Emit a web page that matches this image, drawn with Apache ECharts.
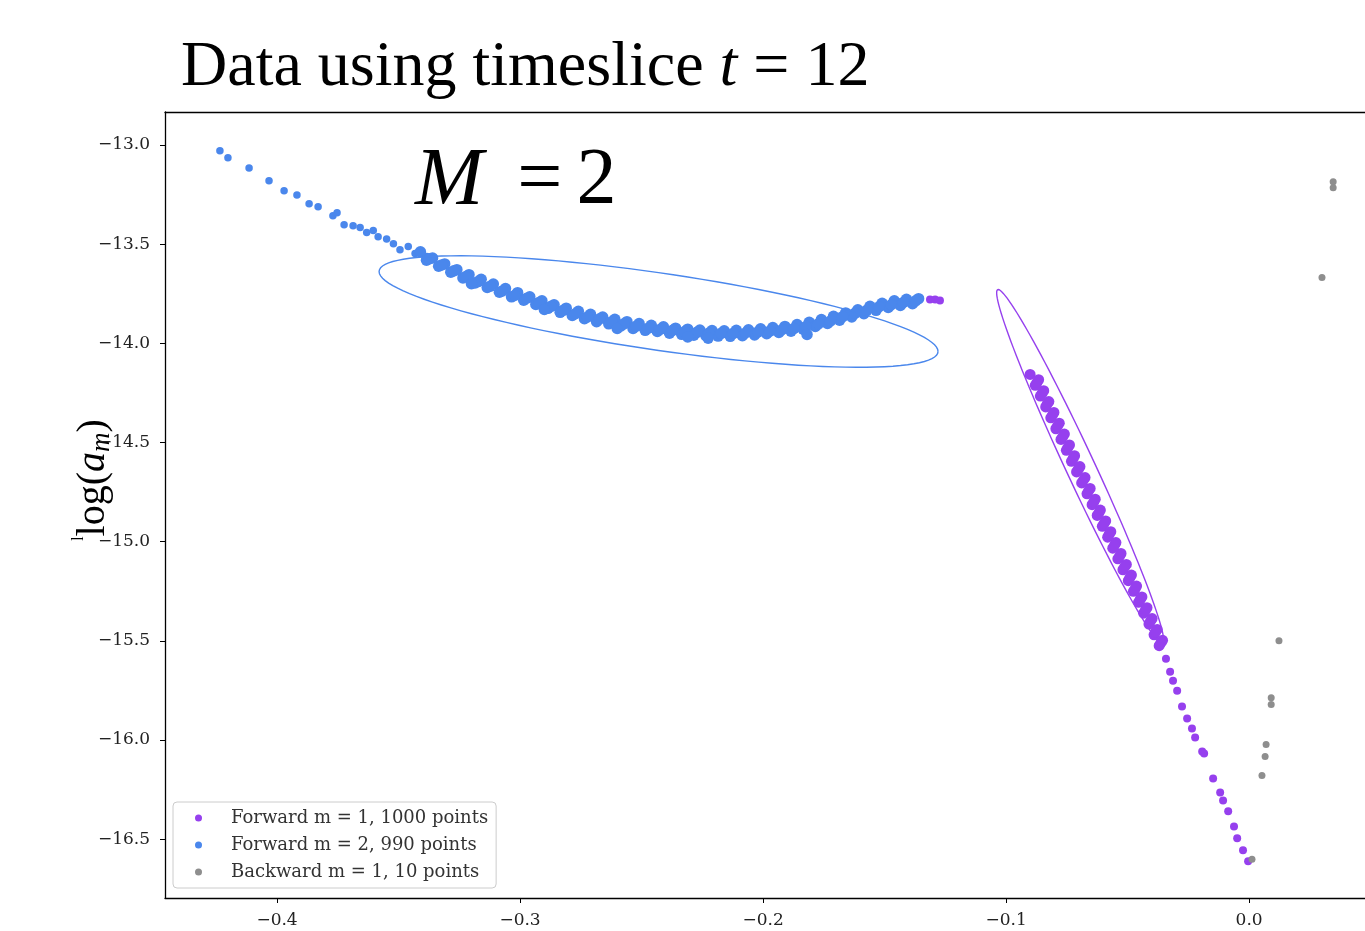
<!DOCTYPE html>
<html>
<head>
<meta charset="utf-8">
<script src="https://cdn.jsdelivr.net/npm/echarts@6/dist/echarts.min.js"></script>
<style>
  html, body { margin: 0; padding: 0; background: #fff; }
  #chart { width: 1365px; height: 931px; }
</style>
</head>
<body>
<div id="chart"></div>
<script>
// series names as in the legend
var names = ['Forward m = 1, 1000 points', 'Forward m = 2, 990 points', 'Backward m = 1, 10 points'];
var colors = ['#9640ee', '#4a87ec', '#8e8e8e'];

var xTicks = [-0.4, -0.3, -0.2, -0.1, 0.0];
var yTicks = [-16.5, -16.0, -15.5, -15.0, -14.5, -14.0, -13.5, -13.0];

// Forward m = 2 (blue): sparse head first, then the dense band (three rows)
var m2HeadCount = 22;
var forwardM2 = [
  [-0.4235, -13.030], [-0.4202, -13.065], [-0.4115, -13.116], [-0.4033, -13.181],
  [-0.3971, -13.231], [-0.3918, -13.252], [-0.3868, -13.297], [-0.3831, -13.312],
  [-0.3770, -13.357], [-0.3753, -13.342], [-0.3724, -13.402], [-0.3687, -13.407],
  [-0.3658, -13.416], [-0.3631, -13.441], [-0.3604, -13.431], [-0.3584, -13.463],
  [-0.3549, -13.474], [-0.3521, -13.498], [-0.3494, -13.528], [-0.3460, -13.512],
  [-0.3432, -13.548], [-0.3384, -13.562],
  // upper row
  [-0.341, -13.539], [-0.336, -13.570], [-0.331, -13.600], [-0.326, -13.629],
  [-0.321, -13.654], [-0.316, -13.677], [-0.311, -13.701], [-0.306, -13.724],
  [-0.301, -13.745], [-0.296, -13.766], [-0.291, -13.786], [-0.286, -13.806],
  [-0.281, -13.823], [-0.276, -13.839], [-0.271, -13.854], [-0.266, -13.868],
  [-0.261, -13.879], [-0.256, -13.891], [-0.251, -13.901], [-0.246, -13.909],
  [-0.241, -13.917], [-0.236, -13.924], [-0.231, -13.929], [-0.226, -13.933],
  [-0.221, -13.936], [-0.216, -13.937], [-0.211, -13.935], [-0.206, -13.932],
  [-0.201, -13.927], [-0.196, -13.921], [-0.191, -13.915], [-0.186, -13.906],
  [-0.181, -13.894], [-0.176, -13.880], [-0.171, -13.864], [-0.166, -13.847],
  [-0.161, -13.831], [-0.156, -13.814], [-0.151, -13.798], [-0.146, -13.786],
  [-0.141, -13.778], [-0.136, -13.775],
  // lower row
  [-0.3385, -13.581], [-0.3335, -13.612], [-0.3285, -13.642], [-0.3235, -13.671],
  [-0.3185, -13.696], [-0.3135, -13.719], [-0.3085, -13.743], [-0.3035, -13.766],
  [-0.2985, -13.783], [-0.2935, -13.804], [-0.2885, -13.824], [-0.2835, -13.844],
  [-0.2785, -13.860], [-0.2735, -13.876], [-0.2685, -13.891], [-0.2635, -13.902],
  [-0.2585, -13.913], [-0.2535, -13.925], [-0.2485, -13.935], [-0.2435, -13.941],
  [-0.2385, -13.949], [-0.2335, -13.955], [-0.2285, -13.959], [-0.2235, -13.962],
  [-0.2185, -13.964], [-0.2135, -13.965], [-0.2085, -13.962], [-0.2035, -13.958],
  [-0.1985, -13.952], [-0.1935, -13.946], [-0.1885, -13.939], [-0.1835, -13.929],
  [-0.1785, -13.915], [-0.1735, -13.900], [-0.1685, -13.884], [-0.1635, -13.867],
  [-0.1585, -13.851], [-0.1535, -13.834], [-0.1485, -13.820], [-0.1435, -13.809],
  [-0.1385, -13.801],
  // middle row
  [-0.33725, -13.574], [-0.33225, -13.605], [-0.32725, -13.635], [-0.32225, -13.664],
  [-0.31725, -13.689], [-0.31225, -13.712], [-0.30725, -13.736], [-0.30225, -13.759],
  [-0.29725, -13.773], [-0.29225, -13.794], [-0.28725, -13.814], [-0.28225, -13.834],
  [-0.27725, -13.851], [-0.27225, -13.867], [-0.26725, -13.877], [-0.26225, -13.891],
  [-0.25725, -13.902], [-0.25225, -13.914], [-0.24725, -13.924], [-0.24225, -13.929],
  [-0.23725, -13.935], [-0.23225, -13.941], [-0.22725, -13.945], [-0.22225, -13.948],
  [-0.21725, -13.950], [-0.21225, -13.950], [-0.20725, -13.948], [-0.20225, -13.944],
  [-0.19725, -13.939], [-0.19225, -13.932], [-0.18725, -13.925], [-0.18225, -13.915],
  [-0.17725, -13.902], [-0.17225, -13.888], [-0.16725, -13.866], [-0.16225, -13.849],
  [-0.15725, -13.833], [-0.15225, -13.816], [-0.14725, -13.806], [-0.14225, -13.794],
  [-0.13725, -13.786],
  // stray points
  [-0.1819, -13.956], [-0.2226, -13.975], [-0.2310, -13.968], [-0.2600, -13.925],
  [-0.2900, -13.830], [-0.3200, -13.700]
];

// Forward m = 1 (purple): three dots at the end of the blue band, the dense band, then the tail
var forwardM1 = [
  [-0.1313, -13.780], [-0.1292, -13.780], [-0.1272, -13.785],
  [-0.0901, -14.157], [-0.0880, -14.212], [-0.0859, -14.266], [-0.0837, -14.321],
  [-0.0816, -14.376], [-0.0795, -14.431], [-0.0774, -14.485], [-0.0752, -14.540],
  [-0.0731, -14.595], [-0.0710, -14.649], [-0.0689, -14.704], [-0.0667, -14.759],
  [-0.0646, -14.814], [-0.0625, -14.868], [-0.0604, -14.923], [-0.0582, -14.978],
  [-0.0561, -15.033], [-0.0540, -15.087], [-0.0519, -15.142], [-0.0497, -15.197],
  [-0.0476, -15.251], [-0.0455, -15.306], [-0.0434, -15.361], [-0.0412, -15.416],
  [-0.0391, -15.470], [-0.0370, -15.525],
  [-0.0866, -14.184], [-0.0845, -14.239], [-0.0824, -14.294], [-0.0803, -14.349],
  [-0.0781, -14.403], [-0.0760, -14.458], [-0.0739, -14.513], [-0.0718, -14.567],
  [-0.0696, -14.622], [-0.0675, -14.677], [-0.0654, -14.732], [-0.0633, -14.786],
  [-0.0612, -14.841], [-0.0590, -14.896], [-0.0569, -14.950], [-0.0548, -15.005],
  [-0.0527, -15.060], [-0.0505, -15.115], [-0.0484, -15.169], [-0.0463, -15.224],
  [-0.0441, -15.279], [-0.0420, -15.333], [-0.0399, -15.388], [-0.0378, -15.443],
  [-0.0356, -15.498],
  [-0.0873, -14.198], [-0.0852, -14.253], [-0.0831, -14.307], [-0.0809, -14.362],
  [-0.0788, -14.417], [-0.0767, -14.472], [-0.0746, -14.526], [-0.0724, -14.581],
  [-0.0703, -14.636], [-0.0682, -14.691], [-0.0661, -14.745], [-0.0639, -14.800],
  [-0.0618, -14.855], [-0.0597, -14.909], [-0.0576, -14.964], [-0.0554, -15.019],
  [-0.0533, -15.074], [-0.0512, -15.128], [-0.0491, -15.183], [-0.0469, -15.238],
  [-0.0448, -15.292], [-0.0427, -15.347], [-0.0406, -15.402], [-0.0385, -15.457],
  [-0.0363, -15.511],
  [-0.0342, -15.591], [-0.0325, -15.656], [-0.0313, -15.701], [-0.0296, -15.752],
  [-0.0276, -15.832], [-0.0255, -15.892], [-0.0235, -15.943], [-0.0222, -15.988],
  [-0.0193, -16.058], [-0.0185, -16.068], [-0.0148, -16.194], [-0.0119, -16.265],
  [-0.0107, -16.305], [-0.0086, -16.360], [-0.0062, -16.436], [-0.0049, -16.496],
  [-0.0025, -16.556], [-0.0004, -16.612]
];
var m1BandStart = 3, m1BandEnd = 79;

// Backward m = 1 (grey)
var backwardM1 = [
  [0.0346, -13.186], [0.0346, -13.216], [0.0300, -13.669], [0.0123, -15.500],
  [0.0091, -15.787], [0.0091, -15.822], [0.0070, -16.023], [0.0066, -16.084],
  [0.0053, -16.179], [0.0012, -16.602]
];

// fitted ellipses: centre x, centre y, half-axis u (x,y), half-axis v (x,y), colour index
var ellipses = [
  [-0.2430, -13.840, 0.1150, -0.2012, 0.0, 0.1962, 1],
  [-0.0695, -14.622, 0.03374, -0.8929, 0.00658, 0.0, 0]
];

var xMin = -0.4461, xMax = 0.0477;
var yMin = -16.797, yMax = -12.834;

var chart = echarts.init(document.getElementById('chart'));

function fmt(v) {
  return (v < 0 ? '\u2212' : '') + Math.abs(v).toFixed(1);
}

chart.setOption({
  animation: false,
  backgroundColor: '#fff',
  title: [
    {
      text: '{n|Data using timeslice }{i|t}{n| = 12}',
      left: 176, top: 31,
      textStyle: {
        rich: {
          n: { fontFamily: 'Liberation Serif', fontWeight: 'normal', fontSize: 64, color: '#000' },
          i: { fontFamily: 'Liberation Serif', fontStyle: 'italic', fontWeight: 'normal', fontSize: 64, color: '#000' }
        }
      }
    },
    {
      text: '{i|M}{e|=}{n|2}',
      left: 410, top: 136,
      textStyle: {
        rich: {
          n: { fontFamily: 'Liberation Serif', fontWeight: 'normal', fontSize: 80, color: '#000' },
          e: { fontFamily: 'Liberation Serif', fontWeight: 'normal', fontSize: 80, color: '#000', padding: [0, 14, 0, 34] },
          i: { fontFamily: 'Liberation Serif', fontStyle: 'italic', fontWeight: 'normal', fontSize: 82, color: '#000' }
        }
      }
    }
  ],
  grid: { left: 165, top: 112, right: 0, height: 786 },
  legend: {
    data: names,
    orient: 'vertical',
    left: 173, top: 802,
    icon: 'circle',
    itemWidth: 7, itemHeight: 7, itemGap: 7,
    padding: [6, 8, 6, 22],
    backgroundColor: 'rgba(255,255,255,0.85)',
    borderColor: '#cccccc', borderWidth: 1, borderRadius: 4,
    textStyle: { fontFamily: 'DejaVu Serif', fontSize: 18, color: '#333', lineHeight: 20, padding: [0, 0, 0, 24] }
  },
  xAxis: [
    {
      type: 'value',
      min: xMin, max: xMax,
      splitLine: { show: false },
      axisLine: { onZero: false, lineStyle: { color: '#000', width: 1.3 } },
      axisTick: { customValues: xTicks, length: 5, lineStyle: { color: '#000' } },
      axisLabel: {
        customValues: xTicks, formatter: fmt, margin: 14,
        fontFamily: 'DejaVu Serif', fontSize: 17, color: '#222'
      }
    },
    {
      type: 'value', position: 'top',
      min: xMin, max: xMax,
      splitLine: { show: false },
      axisLine: { onZero: false, lineStyle: { color: '#000', width: 1.3 } },
      axisTick: { show: false },
      axisLabel: { show: false }
    }
  ],
  yAxis: {
    type: 'value',
    min: yMin, max: yMax,
    splitLine: { show: false },
    axisLine: { onZero: false, lineStyle: { color: '#000', width: 1.3 } },
    axisTick: { customValues: yTicks, length: 5, lineStyle: { color: '#000' } },
    axisLabel: {
      customValues: yTicks, formatter: fmt, margin: 15,
      fontFamily: 'DejaVu Serif', fontSize: 17, color: '#222'
    },
    name: '{k|l}{n|log(}{i|a}{s|m}{n|)}',
    nameLocation: 'middle',
    nameGap: 50,
    nameMoveOverlap: false,
    nameTextStyle: {
      backgroundColor: '#fff',
      padding: [0, 2, 0, 52],
      rich: {
        k: { fontFamily: 'Liberation Serif', fontSize: 16, color: '#000', verticalAlign: 'top', lineHeight: 44 },
        n: { fontFamily: 'Liberation Serif', fontSize: 40, color: '#000', lineHeight: 44 },
        i: { fontFamily: 'Liberation Serif', fontStyle: 'italic', fontSize: 40, color: '#000', lineHeight: 44 },
        s: { fontFamily: 'Liberation Serif', fontStyle: 'italic', fontSize: 27, color: '#000', verticalAlign: 'bottom', lineHeight: 20 }
      }
    }
  },
  series: [
    {
      name: names[0], type: 'scatter', data: forwardM1,
      symbolSize: function (v, p) { return (p.dataIndex >= m1BandStart && p.dataIndex < m1BandEnd) ? 11 : 8; },
      itemStyle: { color: colors[0], opacity: 1 }
    },
    {
      name: names[1], type: 'scatter', data: forwardM2,
      symbolSize: function (v, p) { return p.dataIndex < m2HeadCount ? 7.5 : 11.5; },
      itemStyle: { color: colors[1], opacity: 1 }
    },
    {
      name: names[2], type: 'scatter', data: backwardM1,
      symbolSize: 7, itemStyle: { color: colors[2], opacity: 1 }
    },
    {
      type: 'custom',
      name: 'ellipses',
      silent: true,
      data: ellipses,
      encode: { x: 0, y: 1 },
      z: 3,
      renderItem: function (params, api) {
        var e = ellipses[params.dataIndex];
        var pts = [];
        for (var k = 0; k <= 120; k++) {
          var t = k / 120 * Math.PI * 2;
          pts.push(api.coord([
            e[0] + e[2] * Math.cos(t) + e[4] * Math.sin(t),
            e[1] + e[3] * Math.cos(t) + e[5] * Math.sin(t)
          ]));
        }
        return {
          type: 'polyline',
          shape: { points: pts },
          style: { stroke: colors[e[6]], fill: null, lineWidth: 1.4 }
        };
      }
    }
  ]
});
</script>
</body>
</html>
